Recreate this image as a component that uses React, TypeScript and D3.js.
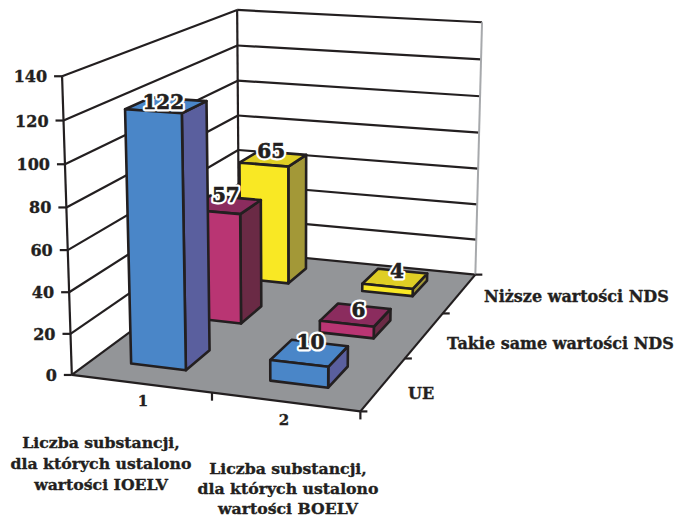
import React from "react";
import * as d3 from "d3";

// Chart values
const categoryTicks = ["1", "2"];
const categoryNames = [
  ["Liczba substancji,", "dla których ustalono", "wartości IOELV"],
  ["Liczba substancji,", "dla których ustalono", "wartości BOELV"],
];
const seriesNames = ["UE", "Takie same wartości NDS", "Niższe wartości NDS"];
const ueValues = [122, 10];
const sameValues = [57, 6];
const lowerValues = [65, 4];
const valueTicks = [0, 20, 40, 60, 80, 100, 120, 140];

const seriesStyles = [
  { front: "#4a86c8", side: "#5a5f9e", top: "#4a86c8" },
  { front: "#b93573", side: "#6a2a45", top: "#8b2c5e" },
  { front: "#f9e824", side: "#a39837", top: "#dfce24" },
];

const INK = "#231f20";
const FONT = "'DejaVu Serif', serif";

// Scene axes: x along the categories, y up the values, z into the depth.
const xScale = d3.scaleLinear().domain([0, categoryTicks.length]).range([0, 1]);
const yScale = d3.scaleLinear().domain([0, 140]).range([0, 1]);
const zScale = d3.scaleLinear().domain([0, seriesNames.length]).range([0, 1]);

// Camera calibration: scene point -> screen point.
const calibration: [number, number, number, number, number][] = [
  [0, 0, 0, 72, 373],
  [1, 0, 0, 359, 413],
  [0, 0, 1, 239, 254],
  [1, 0, 1, 474, 273],
  [0, 1, 0, 62, 77],
  [0, 1, 1, 237, 9],
  [1, 1, 1, 482, 23],
  [0, 60 / 140, 0, 68, 250],
  [1, 60 / 140, 1, 478, 169],
  [0, 100 / 140, 1, 238, 80],
  [0.5, 0, 0, 211, 393],
  [1, 0, 1 / 3, 407, 358],
  [1, 0, 2 / 3, 444, 313],
];

function solve(A: number[][], b: number[]): number[] {
  const n = b.length;
  const M = A.map((r, i) => [...r, b[i]]);
  for (let c = 0; c < n; c++) {
    let p = c;
    for (let r = c + 1; r < n; r++) if (Math.abs(M[r][c]) > Math.abs(M[p][c])) p = r;
    [M[c], M[p]] = [M[p], M[c]];
    for (let r = 0; r < n; r++) {
      if (r === c) continue;
      const f = M[r][c] / M[c][c];
      for (let k = c; k <= n; k++) M[r][k] -= f * M[c][k];
    }
  }
  return M.map((r, i) => r[n] / r[i]);
}

function fitCamera(): number[] {
  const rows: number[][] = [];
  const rhs: number[] = [];
  for (const [x, y, z, u, v] of calibration) {
    rows.push([x, y, z, 1, 0, 0, 0, 0, -u * x, -u * y, -u * z]);
    rhs.push(u);
    rows.push([0, 0, 0, 0, x, y, z, 1, -v * x, -v * y, -v * z]);
    rhs.push(v);
  }
  const n = 11;
  const AtA = d3.range(n).map((i) => d3.range(n).map((j) => d3.sum(rows, (r) => r[i] * r[j])));
  const Atb = d3.range(n).map((i) => d3.sum(rows, (r, k) => r[i] * rhs[k]));
  return solve(AtA, Atb);
}

const cam = fitCamera();
type Pt = [number, number];
const project = (x: number, y: number, z: number): Pt => {
  const w = cam[8] * x + cam[9] * y + cam[10] * z + 1;
  return [
    (cam[0] * x + cam[1] * y + cam[2] * z + cam[3]) / w,
    (cam[4] * x + cam[5] * y + cam[6] * z + cam[7]) / w,
  ];
};

const pts = (list: Pt[]) => list.map((p) => p.join(",")).join(" ");
const seg = (a: Pt, b: Pt, key: string, color = INK, w = 2.2) => (
  <line key={key} x1={a[0]} y1={a[1]} x2={b[0]} y2={b[1]} stroke={color} strokeWidth={w} />
);

// Fractions of a category slot and of a series slot taken by a bar.
const BAR_X: [number, number] = [0.28, 0.68];
const BAR_Z: [number, number] = [0.32, 0.73];

// Small per-label offsets from the centre of each bar's top, by category and series.
const labelOffsets: Record<string, Pt> = {
  "0-0": [-3, 4],
  "0-2": [-2, -1],
  "0-1": [1, -3],
  "1-2": [2, -1],
  "1-1": [3, 2],
  "1-0": [1, -4],
};

function Bar({ cat, series, value }: { cat: number; series: number; value: number }) {
  const x0 = xScale(cat + BAR_X[0]);
  const x1 = xScale(cat + BAR_X[1]);
  const z0 = zScale(series + BAR_Z[0]);
  const z1 = zScale(series + BAR_Z[1]);
  const y1 = yScale(value);
  const s = seriesStyles[series];
  const stroke = { stroke: INK, strokeWidth: 2.6, strokeLinejoin: "round" as const };
  return (
    <g>
      <polygon
        points={pts([project(x1, 0, z0), project(x1, 0, z1), project(x1, y1, z1), project(x1, y1, z0)])}
        fill={s.side}
        {...stroke}
      />
      <polygon
        points={pts([project(x0, y1, z0), project(x1, y1, z0), project(x1, y1, z1), project(x0, y1, z1)])}
        fill={s.top}
        {...stroke}
      />
      <polygon
        points={pts([project(x0, 0, z0), project(x1, 0, z0), project(x1, y1, z0), project(x0, y1, z0)])}
        fill={s.front}
        {...stroke}
      />
    </g>
  );
}

const allValues = [ueValues, sameValues, lowerValues];

export default function App() {
  const floor: Pt[] = [project(0, 0, 0), project(1, 0, 0), project(1, 0, 1), project(0, 0, 1)];
  const marks: { cat: number; series: number; value: number }[] = [];
  for (let series = seriesNames.length - 1; series >= 0; series--) {
    categoryTicks.forEach((_, cat) => marks.push({ cat, series, value: allValues[series][cat] }));
  }
  const labelText = {
    fontFamily: FONT,
    fontWeight: 700,
    fill: INK,
    stroke: INK,
    strokeWidth: 0.35,
  };
  return (
    <svg
      width={674}
      height={518}
      viewBox="0 0 674 518"
      style={{ position: "absolute", left: 0, top: 0, background: "#fff" }}
    >
      <polygon points={pts(floor)} fill="#939598" />
      {/* Wall grid */}
      {valueTicks.map((v) => {
        const y = yScale(v);
        return (
          <g key={v}>
            {seg(project(0, y, 0), project(0, y, 1), `l${v}`)}
            {seg(project(0, y, 1), project(1, y, 1), `b${v}`)}
            {seg(project(0, y, 0), [project(0, y, 0)[0] - 8, project(0, y, 0)[1]], `t${v}`)}
            <text
              x={project(0, y, 0)[0] - 15}
              y={project(0, y, 0)[1] + 6}
              textAnchor="end"
              fontSize={16}
              {...labelText}
            >
              {v}
            </text>
          </g>
        );
      })}
      {seg(project(0, 0, 0), project(0, 1, 0), "axisLeft")}
      {seg(project(0, 0, 1), project(0, 1, 1), "axisBack")}
      {seg(project(1, 0, 1), project(1, 1, 1), "axisRight", "#a7a9ac", 2)}
      {/* Floor edges and ticks */}
      {seg(project(0, 0, 0), project(1, 0, 0), "edgeFront")}
      {seg(project(1, 0, 0), project(1, 0, 1), "edgeRight")}
      {seg(project(0.5, 0, 0), [project(0.5, 0, 0)[0], project(0.5, 0, 0)[1] + 8], "tickCat")}
      {seg(project(1, 0, 0), [project(1, 0, 0)[0], project(1, 0, 0)[1] + 8], "tickCatEnd")}
      {d3.range(seriesNames.length + 1).map((i) => {
        const p = project(1, 0, zScale(i));
        return seg(p, [p[0] + 7, p[1]], `tickS${i}`);
      })}
      {marks.map((m) => (
        <Bar key={`${m.cat}-${m.series}`} {...m} />
      ))}
      {/* Value labels */}
      {marks.map((m) => {
        const key = `${m.cat}-${m.series}`;
        const p = project(
          xScale(m.cat + (BAR_X[0] + BAR_X[1]) / 2),
          yScale(m.value),
          zScale(m.series + (BAR_Z[0] + BAR_Z[1]) / 2),
        );
        const [dx, dy] = labelOffsets[key];
        return (
          <g key={`v${key}`}>
            <text
              x={p[0] + dx}
              y={p[1] + dy}
              textAnchor="middle"
              fontSize={20}
              fontFamily={FONT}
              fontWeight={700}
              fill="#fff"
              stroke="#fff"
              strokeWidth={5}
              strokeLinejoin="round"
            >
              {m.value}
            </text>
            <text x={p[0] + dx} y={p[1] + dy} textAnchor="middle" fontSize={20} {...labelText} strokeWidth={0.6}>
              {m.value}
            </text>
          </g>
        );
      })}
      {/* Category numbers */}
      <text x={143} y={406} textAnchor="middle" fontSize={15} {...labelText}>{categoryTicks[0]}</text>
      <text x={284} y={425} textAnchor="middle" fontSize={15} {...labelText}>{categoryTicks[1]}</text>
      {/* Category names */}
      {categoryNames.map((lines, i) =>
        lines.map((line, j) => (
          <text
            key={`${i}-${j}`}
            x={i === 0 ? 101 : 288}
            y={(i === 0 ? 448 : 474) + j * (i === 0 ? 21 : 20)}
            textAnchor="middle"
            fontSize={15.7}
            {...labelText}
          >
            {line}
          </text>
        )),
      )}
      {/* Series names */}
      <text x={484} y={302} fontSize={16} {...labelText}>{seriesNames[2]}</text>
      <text x={447} y={349} fontSize={16} {...labelText}>{seriesNames[1]}</text>
      <text x={408} y={399} fontSize={16} {...labelText}>{seriesNames[0]}</text>
    </svg>
  );
}
